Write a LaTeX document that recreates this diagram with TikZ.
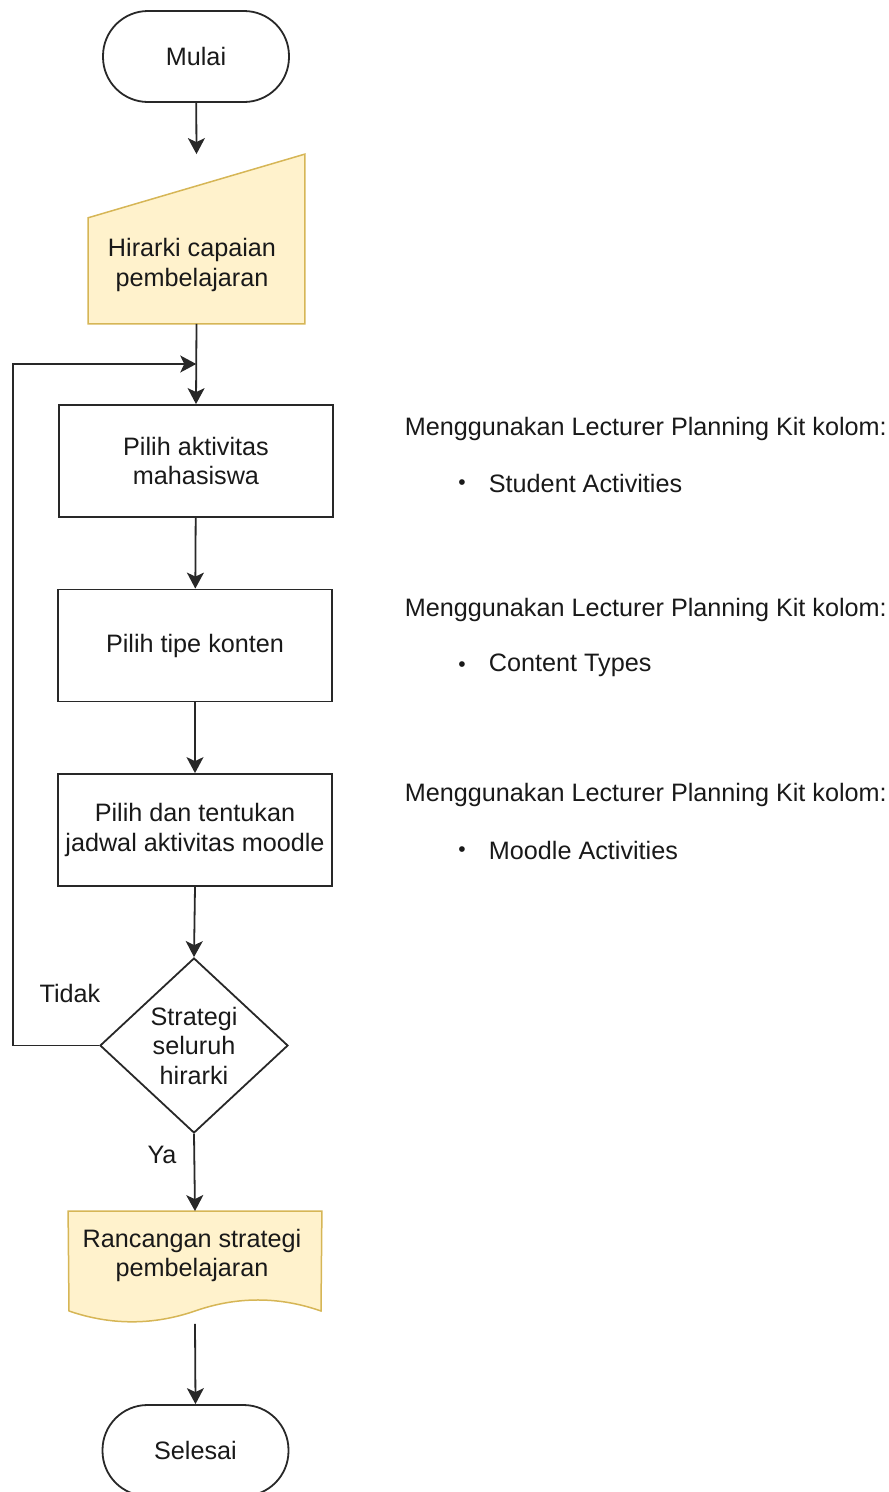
\documentclass[tikz,border=0pt]{standalone}
\usepackage{fontspec}
\setmainfont{Liberation Sans}
\usetikzlibrary{shapes.geometric,arrows.meta,calc}

\definecolor{inputfill}{RGB}{255,242,204}
\definecolor{inputdraw}{RGB}{214,182,86}
\definecolor{linegray}{RGB}{40,40,40}
\definecolor{textgray}{RGB}{25,25,25}

\tikzset{every picture/.style={line width=1.8pt}}

\begin{document}
\begin{tikzpicture}[x=1pt,y=1pt,yscale=-1,xscale=1,
  font=\fontsize{25.2}{29.5}\selectfont, text=textgray,
  terminal/.style={draw=linegray,rectangle,rounded corners=45pt,minimum width=186pt,minimum height=91pt,inner sep=0pt},
  process/.style={draw=linegray,rectangle,minimum width=274pt,minimum height=112pt,inner sep=0pt,align=center},
  decision/.style={draw=linegray,diamond,minimum width=188pt,minimum height=175pt,inner sep=0pt,align=center},
  holder/.style={rectangle,inner sep=0pt},
  yellowshape/.style={draw=inputdraw,fill=inputfill,line width=1.5pt},
  flow/.style={draw=linegray,-{Stealth[length=16pt,width=17pt,inset=4pt]}},
  note/.style={anchor=west,inner sep=0pt},
  dot/.style={inner sep=0pt,font=\fontsize{21}{21}\selectfont}]
\useasboundingbox (0,0) rectangle (889,1492);

%Shape: Terminator [Mulai]
\node[terminal] (mulai) at (196,56.5) {Mulai};

%Shape: Manual Input
\node[holder,minimum width=215pt,minimum height=168pt] (input) at (196.5,239) {};
\draw[yellowshape] (input.south west) -- (input.south east) -- (input.north east) -- ($(input.north west)!0.375!(input.south west)$) -- cycle;
% Text Node
\node[align=center,inner sep=0pt] (inputtext) at (192,265) {Hirarki capaian\\pembelajaran};

%Shape: Process boxes
\node[process] (aktivitas) at (196,461) {Pilih aktivitas\\mahasiswa};
\node[process] (konten) at (195,645.5) {Pilih tipe konten};
\node[process] (jadwal) at (195,830) {Pilih dan tentukan\\jadwal aktivitas moodle};

%Shape: Decision
\node[decision] (cek) at (194,1045.5) {Strategi\\seluruh\\hirarki};

%Shape: Document
\node[holder,minimum width=252pt,minimum height=111pt] (doc) at (195,1267.5) {};
\draw[yellowshape] (doc.north west) -- (doc.north east) -- (321,1311) .. controls (279,1296.3) and (237,1296.3) .. (195,1311) .. controls (153,1325.4) and (111,1325.4) .. (69,1311) -- cycle;
% Text Node
\node[align=center,inner sep=0pt] (doctext) at (192,1255.5) {Rancangan strategi\\pembelajaran};

%Shape: Terminator [Selesai]
\node[terminal] (selesai) at (195.5,1450.5) {Selesai};

%Straight Lines
\coordinate (join) at ($(input.south)!0.5!(aktivitas.north)$);
\draw[flow] (mulai) -- (input.north);
\draw[flow] (input.south) -- (aktivitas.north);
\draw[flow] (aktivitas) -- (konten);
\draw[flow] (konten) -- (jadwal);
\draw[flow] (jadwal.south) -- (cek.north);
\draw[flow] (cek.west) -- ++(-86,0) |- (join);
\draw[flow] (cek.south) -- (doc.north);
\draw[flow] (doc.south) -- (selesai.north);

% Text Node
\node[inner sep=0pt] (tidak) at (70,993) {Tidak};
% Text Node
\node[inner sep=0pt] (ya) at (162,1155) {Ya};

% Text Node
\node[note] (kit1) at (404,429) {Menggunakan Lecturer Planning Kit kolom:};
\node[dot] (dot1) at (462,485) {\textbullet};
\node[note] (item1) at (488,483) {Student Activities};
% Text Node
\node[note] (kit2) at (404,610) {Menggunakan Lecturer Planning Kit kolom:};
\node[dot] (dot2) at (462,667) {\textbullet};
\node[note] (item2) at (488,665) {Content Types};
% Text Node
\node[note] (kit3) at (404,795) {Menggunakan Lecturer Planning Kit kolom:};
\node[dot] (dot3) at (462,852) {\textbullet};
\node[note] (item3) at (488,850) {Moodle Activities};

\end{tikzpicture}
\end{document}
